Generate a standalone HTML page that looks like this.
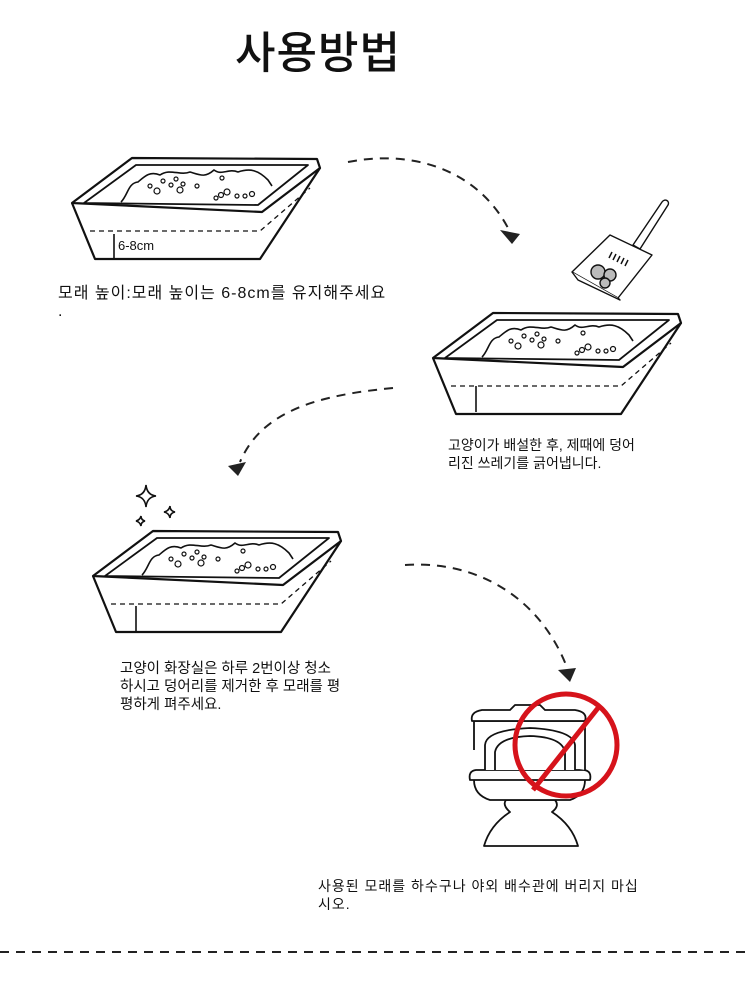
<!DOCTYPE html>
<html><head><meta charset="utf-8"><style>
html,body{margin:0;padding:0;background:#fff}
body{width:750px;height:986px;position:relative;overflow:hidden;font-family:"Liberation Sans","Noto Sans CJK KR",sans-serif;color:#111}
.t{position:absolute;font-size:14px;line-height:18px;white-space:nowrap}
</style></head><body>
<svg width="750" height="986" style="position:absolute;left:0;top:0">
<defs>
<g id="box" fill="none" stroke="#111" stroke-width="2.2" stroke-linejoin="round">
<path d="M72,203 L132,158 L317,159 L320,168 L262,212 L72,203 Z" fill="#fff"/>
<path d="M84,203 L136,165 L308,165 L258,205 Z" stroke-width="1.8"/>
<path d="M72,203 L95,259 L260,259 L320,168"/>
<path d="M90,231 L260,231 L310,188" stroke-dasharray="5,4" stroke-width="1.3"/>
<path d="M121,202 C128,195 128,183 138,182 C145,176 150,171 160,175 C170,168 180,176 190,172 C200,175 205,178 214,170 C222,176 228,168 238,172 C250,168 258,170 268,180 L272,186" stroke-width="1.6"/>
<g stroke-width="1.2">
<circle cx="150" cy="186" r="2"/><circle cx="163" cy="181" r="2"/><circle cx="171" cy="185" r="2"/><circle cx="176" cy="179" r="2"/><circle cx="183" cy="184" r="2"/><circle cx="157" cy="191" r="3"/><circle cx="180" cy="190" r="3"/><circle cx="197" cy="186" r="2"/><circle cx="222" cy="178" r="2"/><circle cx="221" cy="195" r="2.5"/><circle cx="227" cy="192" r="3"/><circle cx="216" cy="198" r="2"/><circle cx="237" cy="196" r="2"/><circle cx="245" cy="196" r="2"/><circle cx="252" cy="194" r="2.5"/>
</g>
</g>
</defs>
<use href="#box"/>
<line x1="114" y1="234" x2="114" y2="258" stroke="#111" stroke-width="1.6"/>
<use href="#box" transform="translate(361,155)"/>
<line x1="476" y1="386" x2="476" y2="412" stroke="#111" stroke-width="1.6"/>
<use href="#box" transform="translate(21,373)"/>
<line x1="136" y1="606" x2="136" y2="631" stroke="#111" stroke-width="1.6"/>
<g fill="none" stroke="#222" stroke-width="2" stroke-dasharray="9,7">
<path d="M348,162 C420,148 480,175 508,228"/>
<path d="M393,388 C320,395 262,410 240,462"/>
<path d="M405,565 C480,560 540,600 566,665"/>
<line x1="0" y1="952" x2="750" y2="952"/>
</g>
<g fill="#222">
<path d="M500,230 L520,234 L512,244 Z"/>
<path d="M228,466 L246,462 L238,476 Z"/>
<path d="M558,670 L576,668 L570,682 Z"/>
</g>
<g fill="#fff" stroke="#111" stroke-width="1.4" stroke-linejoin="round">
<path d="M633,245 L662,202 C665,198 670,201 668,205 L640,249 Z"/>
<path d="M572,272 L610,235 L652,255 L618,298 Z"/>
<path d="M572,272 L578,280 L620,300 L618,298"/>
<circle cx="598" cy="272" r="7" fill="#bbb"/><circle cx="610" cy="275" r="6" fill="#bbb"/><circle cx="605" cy="283" r="5" fill="#bbb"/>
</g>
<g stroke="#111" stroke-width="1.5"><line x1="612" y1="252" x2="609" y2="258"/><line x1="616" y1="254" x2="613" y2="260"/><line x1="620" y1="256" x2="617" y2="262"/><line x1="624" y1="258" x2="621" y2="264"/><line x1="628" y1="260" x2="625" y2="266"/></g>
<g fill="none" stroke="#111" stroke-width="1.6">
<path d="M146,485 Q147,495 156,496 Q147,497 146,507 Q145,497 136,496 Q145,495 146,485 Z"/>
<path d="M170,506 Q170,511 175,512 Q170,513 170,518 Q169,513 164,512 Q169,511 170,506 Z"/>
<path d="M141,516 Q141,520 145,521 Q141,522 141,526 Q140,522 136,521 Q140,520 141,516 Z"/>
</g>
<g fill="#fff" stroke="#111" stroke-width="1.8" stroke-linejoin="round">
<path d="M484,846 Q490,825 510,812 Q502,805 506,800 L555,800 Q560,806 552,812 Q572,825 578,846 Z"/>
<path d="M474,780 Q474,795 490,800 L570,800 Q585,795 585,780"/>
<path d="M470,780 L590,780 Q592,771 584,770 L476,770 Q468,771 470,780 Z"/>
<path d="M474,750 L474,721 L585,721 L585,770"/>
<path d="M472,721 Q470,712 482,710 L510,710 L515,705 L540,705 L545,710 L575,710 Q588,712 585,721 Z"/>
<path d="M485,770 L485,745 Q486,730 530,728 Q573,730 575,745 L575,770"/>
<path d="M495,770 L495,752 Q498,737 530,736 Q562,737 565,752 L565,770"/>
</g>
<circle cx="566" cy="745" r="51" fill="none" stroke="#d6131b" stroke-width="5"/>
<line x1="533" y1="790" x2="598" y2="708" stroke="#d6131b" stroke-width="5"/>
</svg>
<div class="t" style="left:0;width:636px;top:27px;text-align:center;font-size:44px;line-height:54px;font-weight:500;letter-spacing:1px">사용방법</div>
<div class="t" style="left:118px;top:237px;font-size:13px">6-8cm</div>
<div class="t" style="left:58px;top:285px;font-size:16px;letter-spacing:1px">모래 높이:모래 높이는 6-8cm를 유지해주세요<br>.</div>
<div class="t" style="left:448px;top:436px">고양이가 배설한 후, 제때에 덩어<br>리진 쓰레기를 긁어냅니다.</div>
<div class="t" style="left:120px;top:660px;font-size:14.5px">고양이 화장실은 하루 2번이상 청소<br>하시고 덩어리를 제거한 후 모래를 평<br>평하게 펴주세요.</div>
<div class="t" style="left:318px;top:877px;letter-spacing:1px">사용된 모래를 하수구나 야외 배수관에 버리지 마십<br>시오.</div>
</body></html>
